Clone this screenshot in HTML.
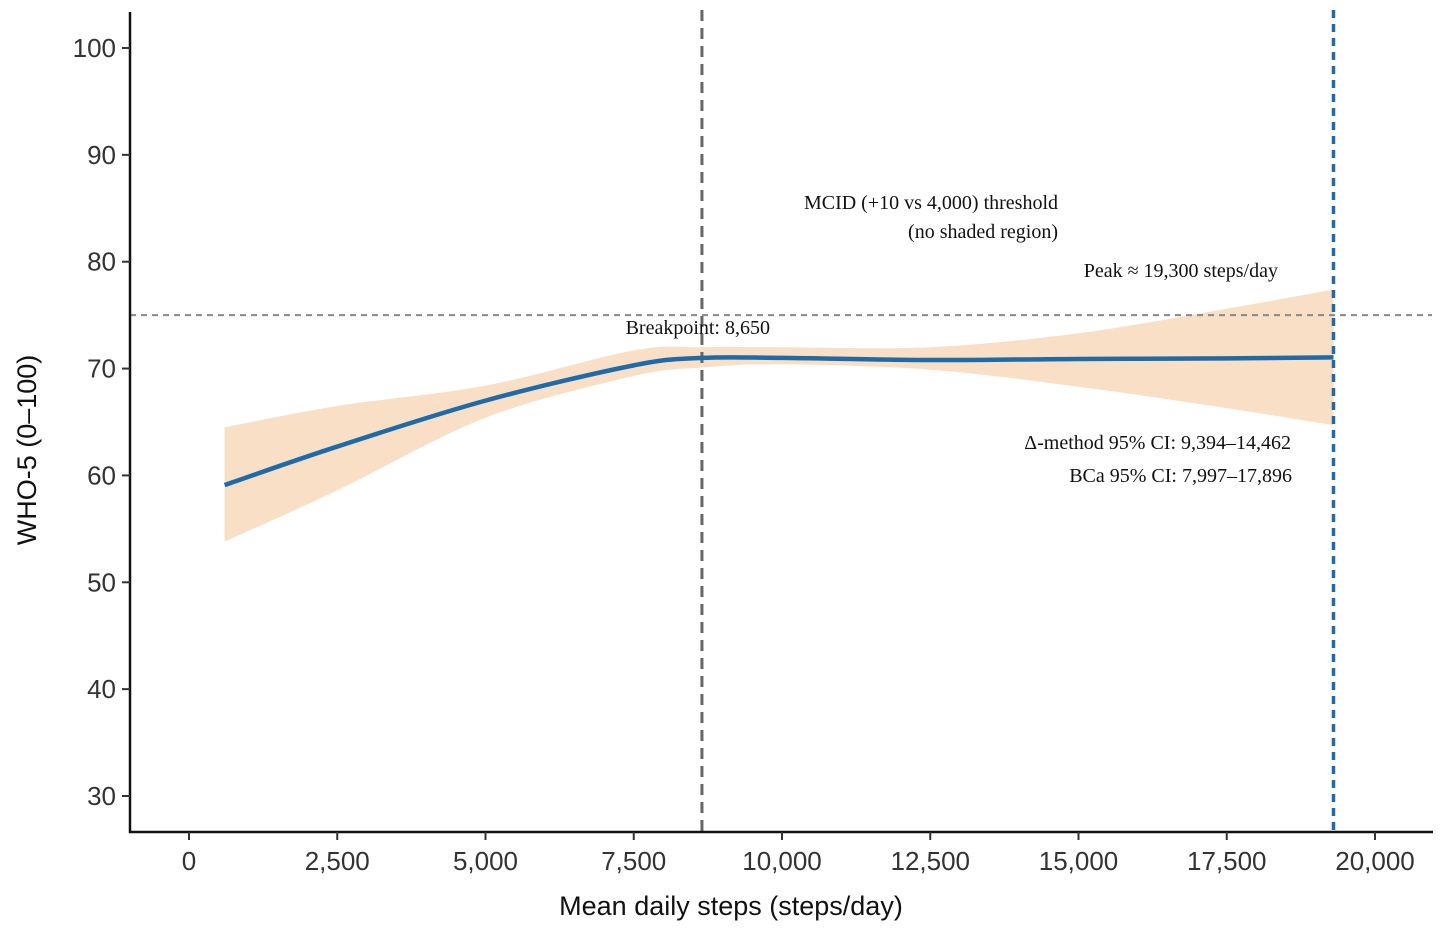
<!DOCTYPE html>
<html><head><meta charset="utf-8"><style>
html,body{margin:0;padding:0;background:#fff;}
svg{display:block;}
.tick{font-family:"Liberation Sans",sans-serif;font-size:26px;fill:#333;}
.title{font-family:"Liberation Sans",sans-serif;font-size:27px;fill:#111;}
.ann{font-family:"Liberation Serif",serif;font-size:20px;fill:#111;}
</style></head><body>
<svg id="chart" width="1441" height="928" viewBox="0 0 1441 928">
<g id="band"></g>
<g id="lines"></g>
<g id="axes"></g>
<g id="anns"></g>
</svg>
<script>
const steps=[600,2500,5000,7500,8650,10000,12500,15000,17500,19300];
const fit=[59.1,62.7,67.0,70.3,71.0,71.0,70.8,70.9,70.95,71.05];
const lower=[53.8,58.6,65.4,69.3,70.1,70.4,69.9,68.3,66.3,64.7];
const upper=[64.5,66.5,68.4,71.7,72.0,72.0,72.0,73.3,75.6,77.4];
const xTicks=[0,2500,5000,7500,10000,12500,15000,17500,20000];
const xTickLabels=["0","2,500","5,000","7,500","10,000","12,500","15,000","17,500","20,000"];
const yTicks=[30,40,50,60,70,80,90,100];
const mcid=75, breakpoint=8650, peak=19300;
const NS="http://www.w3.org/2000/svg";
const X=v=>189+v*(1375-189)/20000;
const Y=v=>796-(v-30)*(796-48)/70;
function mk(p,t,a){const e=document.createElementNS(NS,t);for(const k in a)e.setAttribute(k,a[k]);p.appendChild(e);return e;}
function smooth(pts){let d=`M${pts[0][0]},${pts[0][1]}`;for(let i=0;i<pts.length-1;i++){const p0=pts[i-1]||pts[i],p1=pts[i],p2=pts[i+1],p3=pts[i+2]||p2;
d+=` C${p1[0]+(p2[0]-p0[0])/6},${p1[1]+(p2[1]-p0[1])/6} ${p2[0]-(p3[0]-p1[0])/6},${p2[1]-(p3[1]-p1[1])/6} ${p2[0]},${p2[1]}`;}return d;}
const band=document.getElementById('band'),lines=document.getElementById('lines'),axes=document.getElementById('axes'),anns=document.getElementById('anns');
const up=steps.map((s,i)=>[X(s),Y(upper[i])]);
const lo=steps.map((s,i)=>[X(s),Y(lower[i])]).reverse();
const bd=smooth(up)+" L"+smooth(lo).slice(1)+" Z";
mk(band,'path',{d:bd,fill:'#f8dfc6',stroke:'none'});
let e;
e=mk(lines,'line',{x1:130,x2:1432,y1:Y(mcid),y2:Y(mcid),stroke:'#888',"stroke-width":2,"stroke-dasharray":"6,5"});

e=mk(lines,'line',{x1:X(breakpoint),x2:X(breakpoint),y1:10,y2:832,stroke:'#666',"stroke-width":3,"stroke-dasharray":"11,7"});

e=mk(lines,'path',{d:smooth(steps.map((s,i)=>[X(s),Y(fit[i])])),fill:'none',stroke:'#1f6aa8',"stroke-width":4.5});

e=mk(lines,'line',{x1:X(peak),x2:X(peak),y1:10,y2:832,stroke:'#1f6aa8',"stroke-width":3.5,"stroke-dasharray":"8,6"});

e=mk(axes,'line',{x1:130,x2:130,y1:12,y2:833,stroke:'#111',"stroke-width":2.5});

e=mk(axes,'line',{x1:129,x2:1433,y1:832,y2:832,stroke:'#111',"stroke-width":2.5});

xTicks.forEach((t,i)=>{mk(axes,'line',{x1:X(t),x2:X(t),y1:832,y2:840,stroke:'#333',"stroke-width":2});
e=mk(axes,'text',{x:X(t),y:870,"text-anchor":"middle",class:"tick"});e.textContent=xTickLabels[i];
});
yTicks.forEach(t=>{mk(axes,'line',{x1:122,x2:130,y1:Y(t),y2:Y(t),stroke:'#333',"stroke-width":2});
e=mk(axes,'text',{x:116,y:Y(t)+9,"text-anchor":"end",class:"tick"});e.textContent=t;
});
e=mk(axes,'text',{x:731,y:915,"text-anchor":"middle",class:"title"});e.textContent="Mean daily steps (steps/day)";

e=mk(axes,'text',{x:0,y:0,"text-anchor":"middle",class:"title",transform:"translate(36,450) rotate(-90)"});e.textContent="WHO-5 (0\u2013100)";

const annTxt=[["MCID (+10 vs 4,000) threshold",1058,209,"mcid-label"],["(no shaded region)",1058,238,"mcid-note"],["Peak \u2248 19,300 steps/day",1278,277,"peak-label"],["Breakpoint: 8,650",770,334,"breakpoint-label"],["\u0394-method 95% CI: 9,394\u201314,462",1291,449,"delta-ci-label"],["BCa 95% CI: 7,997\u201317,896",1292,482,"bca-ci-label"]];
annTxt.forEach(a=>{e=mk(anns,'text',{x:a[1],y:a[2],"text-anchor":"end",class:"ann"});e.textContent=a[0];
});
</script>
</body></html>
